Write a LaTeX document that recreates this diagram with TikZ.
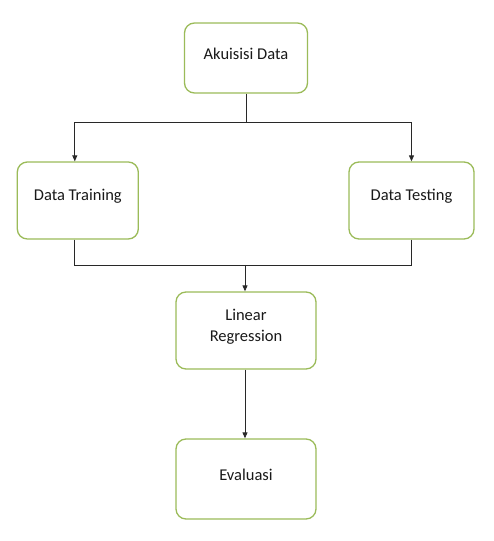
\documentclass[tikz,border=0pt]{standalone}
\usepackage{fontspec}
\setmainfont{Carlito}
\usetikzlibrary{arrows.meta}
\definecolor{boxgreen}{RGB}{155,187,89}
\definecolor{linegray}{RGB}{40,40,40}
\tikzset{
  procbox/.style={draw=boxgreen, line width=1.3pt, rounded corners=10pt, fill=white, inner sep=0pt},
  boxtext/.style={font=\fontsize{16.5}{21}\selectfont, text=black!90, align=center, yshift=4pt},
  conn/.style={draw=linegray, line width=0.9pt},
  arr/.style={conn, -{Triangle[width=5pt,length=6pt]}}
}
\begin{document}
\begin{tikzpicture}[x=1pt,y=1pt]
\useasboundingbox (0,0) rectangle (493,541);
\node[procbox, minimum width=123pt, minimum height=70pt,
  label={[boxtext]center:Akuisisi Data}] (ak) at (246,483) {};
\node[procbox, minimum width=121pt, minimum height=77pt,
  label={[boxtext]center:Data Training}] (dtr) at (77.8,340.5) {};
\node[procbox, minimum width=125pt, minimum height=77pt,
  label={[boxtext]center:Data Testing}] (dts) at (411.5,340.5) {};
\node[procbox, minimum width=140pt, minimum height=77pt,
  label={[boxtext]center:{Linear\\Regression}}] (lr) at (246,210.5) {};
\node[procbox, minimum width=140pt, minimum height=80pt,
  label={[boxtext]center:Evaluasi}] (ev) at (246,62) {};
\coordinate (split) at (246,419);
\coordinate (join) at (245,276);
% split from Akuisisi Data
\draw[conn] (ak.south) -- (split);
\draw[arr] (split) -| ([xshift=-3pt]dtr.north);
\draw[arr] (split) -| (dts.north);
% join into Linear Regression
\draw[conn] ([xshift=-3pt]dtr.south) |- (join);
\draw[conn] (dts.south) |- (join);
\draw[arr] (join) -- (lr.north -| join);
% Linear Regression to Evaluasi
\draw[arr] (lr.south -| join) -- (ev.north -| join);
\end{tikzpicture}
\end{document}
